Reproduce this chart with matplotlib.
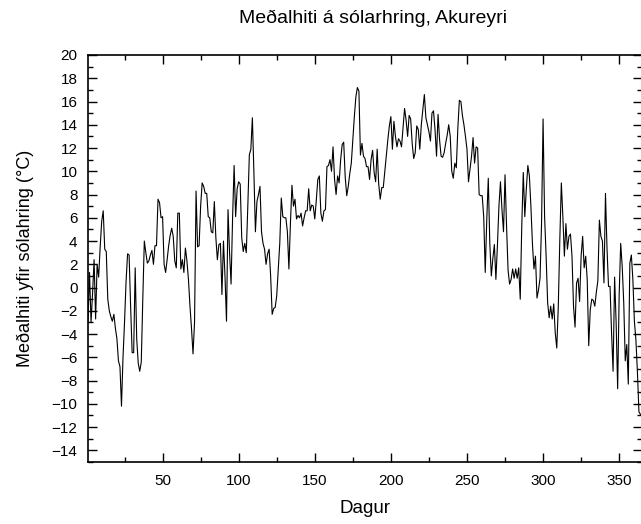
import matplotlib
matplotlib.use("Agg")
import matplotlib.pyplot as plt
from matplotlib.ticker import MultipleLocator

plt.rcParams['font.family'] = ['Liberation Sans', 'DejaVu Sans']

# daily mean temperature, Akureyri (day 1..365)
temps = [
    -3.0, 1.3, -3.0, -0.5, 2.4, -2.7, 2.0, 0.9, 3.5, 5.7,
    6.6, 3.3, 3.1, -1.0, -2.0, -2.5, -2.9, -2.3, -3.5, -4.4,
    -6.3, -6.8, -10.2, -6.0, -3.0, 0.5, 2.9, 2.8, -1.6, -5.6,
    -5.6, 1.7, -4.4, -6.5, -7.2, -6.4, -1.0, 4.0, 3.0, 2.1,
    2.3, 2.8, 3.2, 2.0, 3.6, 3.6, 7.6, 7.3, 6.0, 6.1,
    2.0, 1.3, 2.4, 3.6, 4.5, 5.1, 4.4, 2.3, 1.7, 6.4,
    6.4, 1.6, 2.4, 1.3, 3.4, 2.3, 0.7, -1.6, -3.5, -5.7,
    -3.0, 8.3, 3.5, 3.6, 7.0, 9.0, 8.7, 8.1, 8.1, 6.1,
    6.0, 4.8, 4.7, 7.4, 4.3, 2.4, 3.7, 3.8, -0.6, 4.0,
    1.0, -2.9, 6.7, 3.0, 0.3, 6.0, 10.5, 6.1, 8.5, 9.1,
    8.9, 4.3, 3.1, 3.8, 3.0, 7.0, 11.4, 11.9, 14.6, 9.9,
    4.8, 7.4, 8.0, 8.7, 4.8, 3.8, 3.3, 2.0, 2.9, 3.3,
    1.0, -2.3, -1.8, -1.7, -0.7, 1.5, 3.8, 7.7, 6.1, 6.0,
    6.0, 4.8, 1.6, 5.5, 8.8, 7.0, 7.6, 5.9, 6.2, 6.0,
    6.4, 5.3, 6.0, 6.6, 6.6, 8.5, 6.6, 7.1, 7.0, 5.9,
    7.5, 9.3, 9.6, 6.4, 5.7, 6.6, 6.7, 10.4, 10.5, 11.0,
    10.0, 12.1, 9.3, 8.0, 9.6, 9.0, 11.0, 12.3, 12.5, 9.5,
    7.9, 8.7, 9.8, 10.7, 12.7, 14.7, 16.4, 17.2, 16.9, 11.4,
    12.4, 11.3, 11.1, 10.4, 10.4, 9.3, 11.0, 11.8, 9.9, 9.1,
    11.9, 8.9, 7.6, 8.6, 8.6, 10.0, 11.3, 12.7, 13.9, 14.7,
    11.9, 14.3, 13.0, 12.1, 12.8, 12.6, 12.1, 13.8, 15.4, 14.4,
    13.0, 14.8, 14.5, 12.4, 11.1, 11.6, 13.9, 13.6, 11.9, 14.0,
    15.3, 16.6, 14.6, 14.0, 13.4, 12.6, 15.0, 15.2, 13.6, 11.3,
    14.9, 12.7, 11.3, 11.2, 11.6, 12.4, 13.1, 14.0, 13.0, 10.0,
    9.4, 10.7, 10.3, 13.7, 16.1, 16.0, 14.8, 14.0, 13.0, 11.9,
    9.1, 10.2, 11.3, 12.9, 10.7, 12.1, 12.0, 8.0, 7.9, 7.9,
    6.1, 1.3, 5.8, 9.4, 3.8, 1.0, 2.5, 3.7, 0.7, 3.6,
    7.0, 9.1, 6.7, 4.8, 9.7, 5.3, 1.5, 0.3, 0.7, 1.6,
    0.8, 1.6, 0.8, 1.7, -1.0, 5.3, 9.9, 6.1, 8.5, 10.5,
    9.6, 7.0, 3.8, 1.6, 2.7, -0.9, -0.2, 0.8, 5.5, 14.5,
    6.1, 2.7, -1.3, -2.6, -1.6, -2.7, -1.4, -3.9, -5.2, -1.6,
    4.1, 9.0, 6.1, 2.7, 5.5, 3.3, 4.4, 4.6, 2.7, -1.6,
    -3.4, 0.4, 0.8, -1.2, 2.7, 4.4, 1.7, 2.7, 0.7, -5.0,
    -1.9, -1.0, -1.1, -1.6, -0.4, 0.6, 5.8, 4.4, 4.0, 0.4,
    8.1, 3.4, 0.1, 0.1, -3.9, -7.2, 0.9, -3.0, -8.7, -0.6,
    3.8, 1.8, -1.3, -6.3, -4.9, -8.3, 2.1, 2.8, 0.7, -2.9,
    -4.5, -7.3, -10.7, -10.9, -10.9,
]
days = list(range(1, len(temps) + 1))

fig = plt.figure(figsize=(6.41, 5.24), dpi=100)
ax = fig.add_axes([88 / 641, 62 / 524, 554 / 641, 407 / 524])

ax.plot(days, temps, color='black', linewidth=0.8)

ax.set_xlim(1, 365)
ax.set_ylim(-15, 20)
ax.xaxis.set_major_locator(MultipleLocator(50))
ax.xaxis.set_minor_locator(MultipleLocator(25))
ax.yaxis.set_major_locator(MultipleLocator(2))
ax.yaxis.set_minor_locator(MultipleLocator(1))
ax.tick_params(which='both', direction='in', top=True, right=True, labelsize=11, width=1)
ax.tick_params(which='major', length=6.5)
ax.tick_params(which='minor', length=3.5)
ax.tick_params(axis='x', which='major', pad=8.5)
ax.tick_params(axis='y', which='major', pad=7.5)
for s in ax.spines.values():
    s.set_linewidth(1.2)

ax.set_xlabel('Dagur', fontsize=13.5, labelpad=9)
ax.set_ylabel('Meðalhiti yfir sólahring (°C)', fontsize=13, labelpad=13)
fig.text(373 / 641, 1 - 18 / 524, 'Meðalhiti á sólarhring, Akureyri',
         ha='center', va='center', fontsize=14)

fig.savefig('out.png', dpi=100)
